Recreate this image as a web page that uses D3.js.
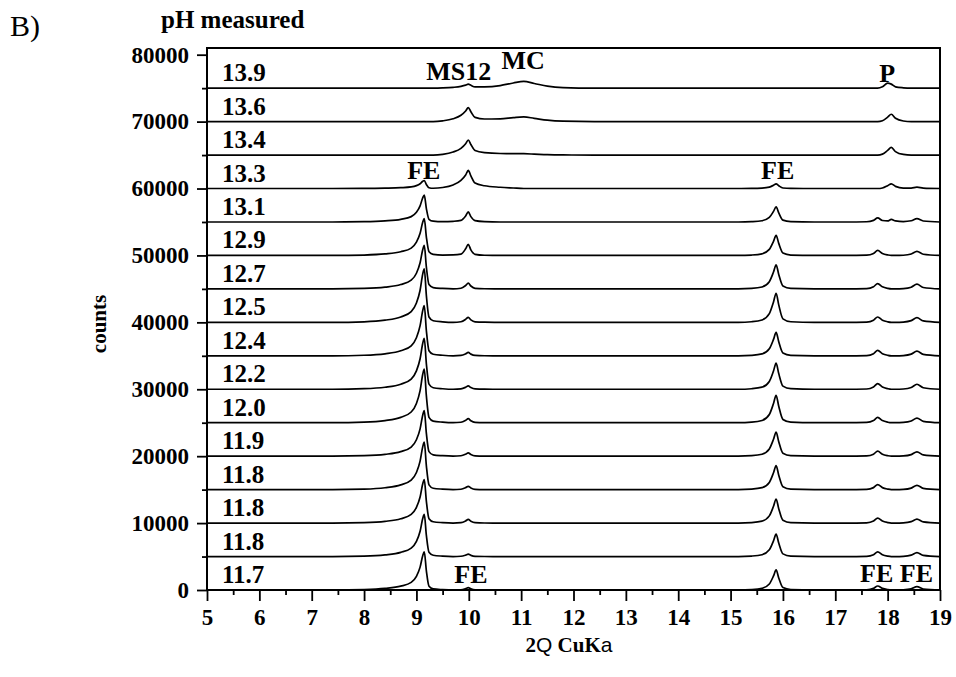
<!DOCTYPE html>
<html>
<head>
<meta charset="utf-8">
<script src="https://cdn.jsdelivr.net/npm/d3@7"></script>
<style>
body { margin: 0; background: #fff; }
text { font-family: "Liberation Serif", "Times New Roman", serif; }
</style>
</head>
<body>
<div id="chart"></div>
<script>
const twoTheta = [5.0, 5.8, 6.6, 7.4, 8.0, 8.4, 8.7, 8.9, 9.0, 9.07, 9.12, 9.15, 9.19, 9.24, 9.32, 9.5,
  9.7, 9.85, 9.94, 9.99, 10.04, 10.12, 10.3, 10.6, 10.85, 11.05, 11.25, 11.5, 11.8,
  12.4, 13.0, 13.6, 14.2, 14.8, 15.15, 15.4, 15.6, 15.74, 15.82, 15.87, 15.92, 16.0, 16.15,
  16.6, 17.2, 17.6, 17.73, 17.81, 17.9, 18.0, 18.07, 18.15, 18.3, 18.45, 18.56, 18.68, 19.0];

// counts above each pattern's own baseline
const pH117 = [0,0,0,0, 60,230,570,1140,2050,3420,5130,5700,2850,570,170,60, 0, 40,210,350,180,40,10, 0,0,0,0,0,0, 0,0,0,0,0,0, 60,240,900,2100,3000,1800,360,60, 0,0, 30,240,600,240,60,0,0,30,180,500,150, 0];
const pH118a = [0,0,0,0, 60,250,630,1260,2270,3780,5670,6300,3150,630,190,60, 0, 40,210,350,180,40,10, 0,0,0,0,0,0, 0,0,0,0,0,0, 70,270,1010,2350,3350,2010,400,70, 0,0, 40,280,700,280,70,0,0,30,210,600,180, 0];
const pH118b = [0,0,0,0, 70,260,650,1300,2340,3900,5850,6500,3250,650,200,70, 0, 70,330,550,280,60,10, 0,0,0,0,0,0, 0,0,0,0,0,0, 70,290,1080,2520,3600,2160,430,70, 0,0, 40,300,750,300,80,0,0,30,210,600,180, 0];
const pH118c = [0,0,0,0, 70,280,710,1420,2560,4260,6390,7100,3550,710,210,70, 0, 60,300,500,250,50,10, 0,0,0,0,0,0, 0,0,0,0,0,0, 70,290,1080,2520,3600,2160,430,70, 0,0, 40,300,750,300,80,0,0,30,230,650,200, 0];
const pH119 = [0,0,0,0, 70,270,680,1360,2450,4080,6120,6800,3400,680,200,70, 0, 60,300,500,250,50,10, 0,0,0,0,0,0, 0,0,0,0,0,0, 70,290,1080,2520,3600,2160,430,70, 0,0, 40,300,750,300,80,0,0,30,230,650,200, 0];
const pH120 = [0,0,0,0, 80,320,800,1600,2880,4800,7200,8000,4000,800,240,80, 0, 70,360,600,300,60,10, 0,0,0,0,0,0, 0,0,0,0,0,0, 80,330,1230,2870,4100,2460,490,80, 0,0, 40,320,800,320,80,0,0,40,250,700,210, 0];
const pH122 = [0,0,0,0, 80,300,760,1520,2740,4560,6840,7600,3800,760,230,80, 0, 60,300,500,250,50,10, 0,0,0,0,0,0, 0,0,0,0,0,0, 80,310,1170,2730,3900,2340,470,80, 0,0, 40,340,850,340,90,0,0,40,260,750,230, 0];
const pH124 = [0,0,0,0, 80,300,750,1500,2700,4500,6750,7500,3750,750,230,80, 0, 60,300,500,250,50,10, 0,0,0,0,0,0, 0,0,0,0,0,0, 70,280,1050,2450,3500,2100,420,70, 0,0, 40,320,800,320,80,0,0,40,250,700,210, 0];
const pH125 = [0,0,0,0, 80,320,800,1600,2880,4800,7200,8000,4000,800,240,80, 0, 90,450,750,380,80,20, 0,0,0,0,0,0, 0,0,0,0,0,0, 90,350,1310,3050,4350,2610,520,90, 0,0, 40,320,800,320,80,0,0,40,250,700,210, 0];
const pH127 = [0,0,0,0, 70,260,650,1300,2340,3900,5850,6500,3250,650,200,70, 0, 100,510,850,430,90,20, 0,0,0,0,0,0, 0,0,0,0,0,0, 70,290,1080,2520,3600,2160,430,70, 0,0, 40,320,800,320,80,0,0,40,250,700,210, 0];
const pH129 = [0,0,0,0, 60,220,550,1100,1980,3300,4950,5500,2750,550,170,60, 80, 200,990,1650,830,170,30, 0,0,0,0,0,0, 0,0,0,0,0,0, 60,240,900,2100,3000,1800,360,60, 0,0, 40,300,750,300,80,0,0,30,210,600,180, 0];
const pH131 = [0,0,0,0, 40,160,400,800,1440,2400,3600,4000,2000,400,120,40, 100, 250,900,1500,800,200,50, 0,0,0,0,0,0, 0,0,0,0,0,0, 50,180,680,1580,2250,1350,270,50, 0,0, 30,240,600,220,150,380,160,60,180,500,150, 0];
const pH133 = [0,0,0,0, 10,50,120,240,430,720,1080,1200,600,120,40,150, 540, 1220,2030,2700,1890,810,410, 190,80,0,0,0,0, 0,0,0,0,0,0, 10,60,210,490,700,420,80,10, 0,0, 0,0,0,80,420,700,320,60,70,200,60, 0];
const pH134 = [0,0,0,0, 0,0,0,0,0,0,0,0,0,0,0,110, 450, 1010,1690,2250,1580,680,360, 230,220,200,140,60,20, 0,0,0,0,0,0, 0,0,0,0,0,0,0,0, 0,0, 0,0,0,140,690,1150,520,90,0,0,0, 0];
const pH136 = [0,0,0,0, 0,0,0,0,0,0,0,0,0,0,0,110, 420, 950,1580,2100,1470,630,390, 400,590,700,490,210,60, 0,0,0,0,0,0, 0,0,0,0,0,0,0,0, 0,0, 0,0,0,130,660,1100,500,90,0,0,0, 0];
const pH139 = [0,0,0,0, 0,0,0,0,0,0,0,0,0,0,0,30, 120, 270,450,600,420,180,190, 390,770,1000,700,300,80, 0,0,0,0,0,0, 0,0,0,0,0,0,0,0, 0,0, 0,0,0,200,750,600,200,50,0,0,0, 0];

const phLabels = ["11.7", "11.8", "11.8", "11.8", "11.9", "12.0", "12.2", "12.4",
  "12.5", "12.7", "12.9", "13.1", "13.3", "13.4", "13.6", "13.9"];
const offsets = [0, 5000, 10000, 15000, 20000, 25000, 30000, 35000,
  40000, 45000, 50000, 55000, 60000, 65000, 70000, 75000];
const patterns = [pH117, pH118a, pH118b, pH118c, pH119, pH120, pH122, pH124,
  pH125, pH127, pH129, pH131, pH133, pH134, pH136, pH139];

const xTickValues = [5, 6, 7, 8, 9, 10, 11, 12, 13, 14, 15, 16, 17, 18, 19];
const xMinorValues = [5.5, 6.5, 7.5, 8.5, 9.5, 10.5, 11.5, 12.5, 13.5, 14.5, 15.5, 16.5, 17.5, 18.5];
const yTickValues = [0, 10000, 20000, 30000, 40000, 50000, 60000, 70000, 80000];
const yMinorValues = [5000, 15000, 25000, 35000, 45000, 55000, 65000, 75000];

// phase labels: text, 2theta, counts (baseline of the text)
const peakLabels = [
  ["MS12", 9.81, 76150], ["MC", 11.04, 77800], ["P", 17.99, 75850],
  ["FE", 9.14, 61400], ["FE", 15.9, 61400],
  ["FE", 10.04, 1100], ["FE", 17.79, 1250], ["FE", 18.55, 1250]
];

const margin = {top: 48, right: 16, bottom: 87, left: 207},
  width = 956 - margin.left - margin.right,
  height = 677 - margin.top - margin.bottom;

const root = d3.select("#chart")
  .append("svg")
  .attr("width", 956)
  .attr("height", 677);

const svg = root.append("g")
  .attr("transform", `translate(${margin.left},${margin.top})`);

const x = d3.scaleLinear().domain([5, 19]).range([0, width]);
const y = d3.scaleLinear().domain([0, 81000]).range([height, 0]);

// patterns
const line = d3.line()
  .x((d, i) => x(twoTheta[i]))
  .y(d => y(d))
  .curve(d3.curveMonotoneX);

svg.selectAll(".trace")
  .data(patterns)
  .enter()
  .append("path")
  .attr("class", "trace")
  .attr("d", (p, k) => line(p.map(v => v + offsets[k])))
  .attr("fill", "none")
  .attr("stroke", "#000")
  .attr("stroke-width", 1.7);

// pH labels above each baseline
svg.selectAll(".ph")
  .data(phLabels)
  .enter()
  .append("text")
  .attr("class", "ph")
  .attr("x", 15)
  .attr("y", (d, k) => y(offsets[k]) - 7)
  .attr("font-size", 25)
  .attr("font-weight", "bold")
  .text(d => d);

svg.selectAll(".peak")
  .data(peakLabels)
  .enter()
  .append("text")
  .attr("class", "peak")
  .attr("x", d => x(d[1]))
  .attr("y", d => y(d[2]))
  .attr("text-anchor", "middle")
  .attr("font-size", 26)
  .attr("font-weight", "bold")
  .text(d => d[0]);

// axes
const xAxis = svg.append("g")
  .attr("transform", `translate(0,${height})`)
  .call(d3.axisBottom(x).tickValues(xTickValues).tickSize(11).tickSizeOuter(0));
xAxis.selectAll("text").attr("y", 35).attr("dy", 0);

svg.append("g")
  .attr("transform", `translate(0,${height})`)
  .call(d3.axisBottom(x).tickValues(xMinorValues).tickSize(5).tickSizeOuter(0).tickFormat(""));

svg.append("g")
  .call(d3.axisLeft(y).tickValues(yTickValues).tickFormat(d3.format("d"))
    .tickSize(10).tickPadding(8).tickSizeOuter(0));

svg.append("g")
  .call(d3.axisLeft(y).tickValues(yMinorValues).tickSize(5).tickSizeOuter(0).tickFormat(""));

svg.selectAll(".tick line").attr("stroke", "#000").attr("stroke-width", 1.8);
svg.selectAll(".domain").remove();
svg.selectAll(".tick text")
  .attr("font-family", "Liberation Serif")
  .attr("font-size", 23)
  .attr("font-weight", "bold")
  .attr("fill", "#000");

// frame
svg.append("rect")
  .attr("x", 0)
  .attr("y", 0)
  .attr("width", width)
  .attr("height", height)
  .attr("fill", "none")
  .attr("stroke", "#000")
  .attr("stroke-width", 2);

// titles
root.append("text")
  .attr("x", 10)
  .attr("y", 36)
  .attr("font-size", 30)
  .text("B)");

root.append("text")
  .attr("x", 161)
  .attr("y", 28)
  .attr("font-size", 25)
  .attr("font-weight", "bold")
  .text("pH measured");

root.append("text")
  .attr("transform", "translate(106,324) rotate(-90)")
  .attr("text-anchor", "middle")
  .attr("font-size", 21)
  .attr("font-weight", "bold")
  .text("counts");

const xTitle = root.append("text")
  .attr("x", 569)
  .attr("y", 652)
  .attr("text-anchor", "middle")
  .attr("font-size", 21);
xTitle.append("tspan").attr("font-weight", "bold").text("2");
xTitle.append("tspan").attr("font-family", "Liberation Sans").attr("font-weight", 300).text("Q");
xTitle.append("tspan").attr("font-weight", "bold").text(" CuK");
xTitle.append("tspan").attr("font-family", "Liberation Sans").attr("font-weight", 300).text("a");
</script>
</body>
</html>
